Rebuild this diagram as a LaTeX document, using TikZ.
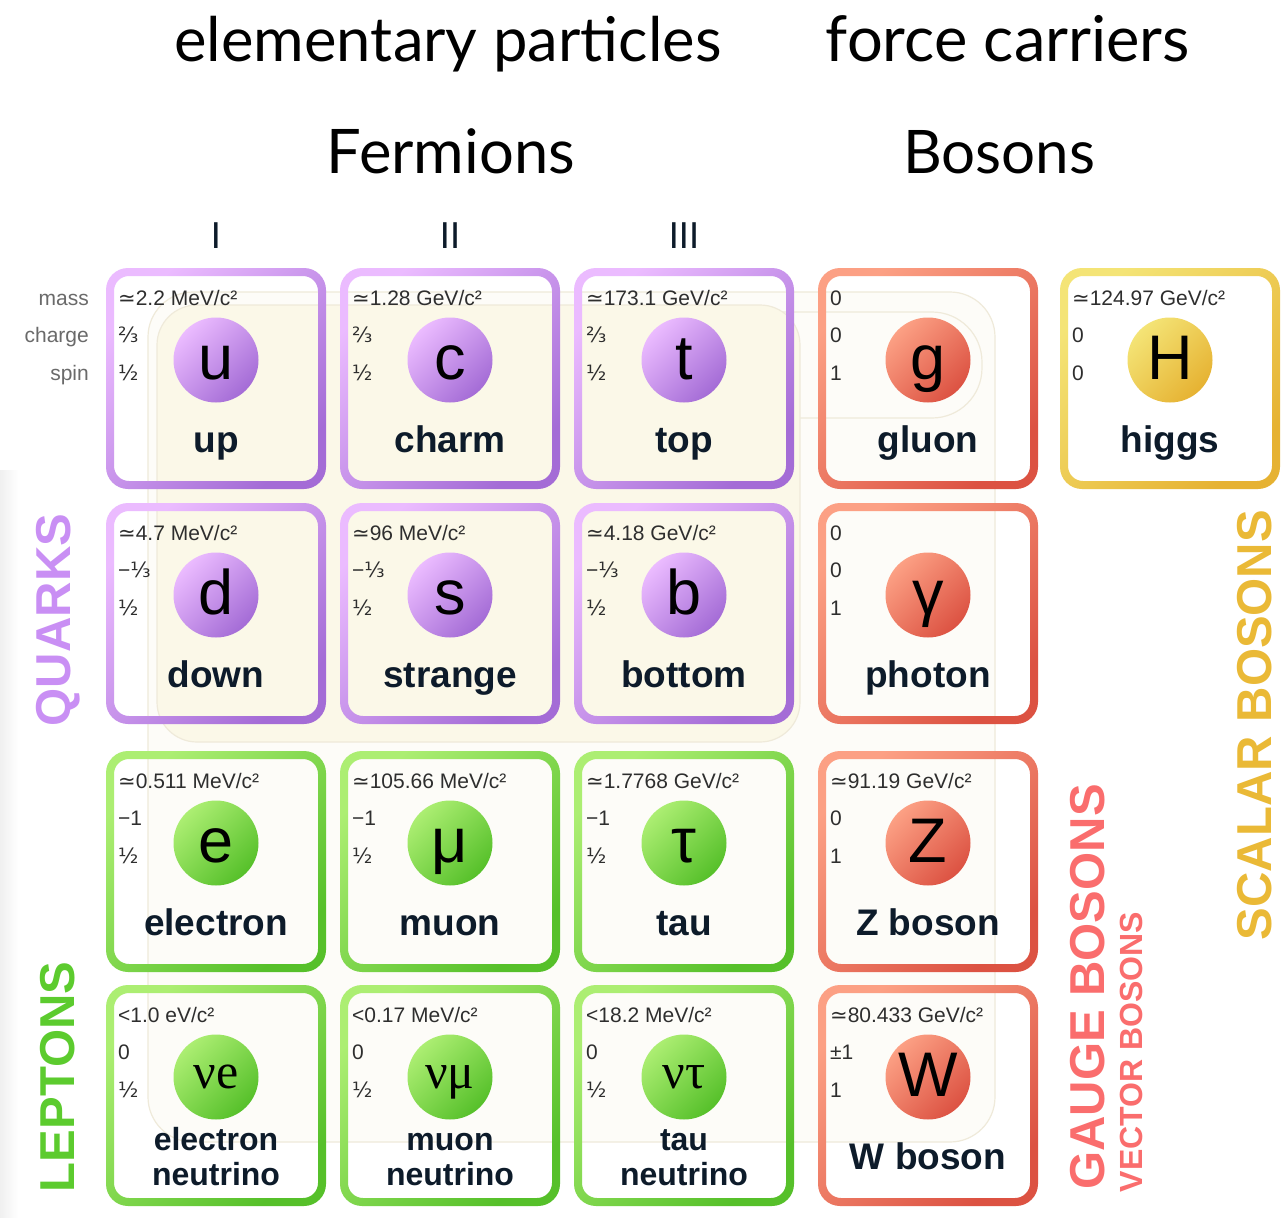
\documentclass[tikz,border=0pt]{standalone}
\usepackage{fontspec}
\setmainfont{Liberation Sans}
\newfontfamily\dejavu{DejaVu Sans}
\newfontfamily\serifgr{Liberation Serif}
\newfontfamily\headfont{Lato}
\definecolor{pA}{HTML}{EBBBFF}
\definecolor{pB}{HTML}{A46CD6}
\definecolor{gA}{HTML}{ACEE72}
\definecolor{gB}{HTML}{56C02A}
\definecolor{rA}{HTML}{FCA084}
\definecolor{rB}{HTML}{DC5242}
\definecolor{yA}{HTML}{F4E476}
\definecolor{yB}{HTML}{E6B232}
\definecolor{bgA}{HTML}{FDFCF8}
\definecolor{bgB}{HTML}{FBF8E8}
\definecolor{bgline}{HTML}{EFEADA}
\definecolor{navy}{HTML}{0D1B2A}
\definecolor{valgray}{HTML}{2E2E2E}
\definecolor{labgray}{HTML}{6A6A6A}
\definecolor{quarkc}{HTML}{C98FF4}
\definecolor{leptonc}{HTML}{5CCB2E}
\definecolor{gaugec}{HTML}{FA6D6D}
\definecolor{scalarc}{HTML}{EAB936}
\newcommand\apx{{\dejavu ≃}}
\newcommand\frc[1]{{\dejavu #1}}
\newcommand\nufont{\fontsize{50}{50}\serifgr}
\tikzset{
  valtext/.style={inner sep=0pt, text=valgray, font=\fontsize{21}{21}\selectfont},
  symtext/.style={inner sep=0pt, text=black, font=\fontsize{63}{63}\selectfont},
  nametext/.style={inner sep=0pt, text=navy, font=\fontsize{37}{37}\selectfont\bfseries},
  nuname/.style={inner sep=0pt, text=navy, font=\fontsize{32}{32}\selectfont\bfseries},
  ball/.style={circle, inner sep=0pt, minimum size=85pt, top color=#1A, bottom color=#1B, shading angle=45},
  headtext/.style={inner sep=0pt, text=black},
  vlabel/.style={inner sep=0pt, rotate=90, font=\fontsize{49}{49}\selectfont\bfseries},
  rowlab/.style={inner sep=0pt, text=labgray, font=\fontsize{21}{21}\selectfont, anchor=base east}
}
% #1 id, #2 x, #3 y, #4 colour, #5 mass, #6 charge, #7 spin, #8 symbol
\newcommand\cellbase[8]{%
  \path[even odd rule, top color=#4A, bottom color=#4B, shading angle=45]
    [rounded corners=22] (#2,#3) rectangle ++(220,221)
    [rounded corners=15] (#2+8,#3+8) rectangle ++(204,205);
  \node[valtext, anchor=base west] (#1-m) at (#2+12,#3+37) {#5};
  \node[valtext, anchor=base west] (#1-q) at (#2+12,#3+74) {#6};
  \node[valtext, anchor=base west] (#1-s) at (#2+12,#3+112) {#7};
  \node[ball=#4] (#1) at (#2+110,#3+92) {};
  \node[symtext, anchor=base] (#1-sym) at (#2+110,#3+111) {#8};
}
\newcommand\pcell[9]{%
  \cellbase{#1}{#2}{#3}{#4}{#5}{#6}{#7}{#8}%
  \node[nametext, anchor=base] (#1-n) at (#2+110,#3+184) {#9};
}
% #1 id, #2 x, #3 y, #4 mass, #5 charge, #6 spin, #7 symbol, #8 line1, #9 line2
\newcommand\nucell[9]{%
  \cellbase{#1}{#2}{#3}{g}{#4}{#5}{#6}{\raisebox{8pt}{\nufont #7}}%
  \node[nuname, anchor=base] (#1-n1) at (#2+110,#3+165) {#8};
  \node[nuname, anchor=base] (#1-n2) at (#2+110,#3+200) {#9};
}
\begin{document}
\begin{tikzpicture}[x=1pt,y=-1pt]
\useasboundingbox (0,0) rectangle (1283,1218);
\fill[white] (0,0) rectangle (1283,1218);
\shade[left color=black!6, right color=white] (0,470) rectangle (18,1218);
% faint interaction regions
\draw[fill=bgA, draw=bgline, line width=1.2pt, rounded corners=45] (148,292) rectangle (995,1142);
\draw[fill=bgA, draw=bgline, line width=1.2pt, rounded corners=50] (700,312) rectangle (982,418);
\draw[fill=bgB, draw=bgline, line width=1.2pt, rounded corners=40] (157,305) rectangle (800,742);

% headings
\node[headtext, anchor=base] (hep) at (448,61) {\resizebox{547pt}{!}{\headfont elementary particles}};
\node[headtext, anchor=base] (hfc) at (1008,61) {\resizebox{364pt}{!}{\headfont force carriers}};
\node[headtext, anchor=base] (hfe) at (451,173) {\resizebox{248pt}{!}{\headfont Fermions}};
\node[headtext, anchor=base] (hbo) at (999,173) {\resizebox{192pt}{!}{\headfont Bosons}};
\node[headtext, anchor=base, text=navy, font=\fontsize{36}{36}\selectfont\headfont] (g1) at (216,248) {I};
\node[headtext, anchor=base, text=navy, font=\fontsize{36}{36}\selectfont\headfont] (g2) at (450,248) {II};
\node[headtext, anchor=base, text=navy, font=\fontsize{36}{36}\selectfont\headfont] (g3) at (684,248) {III};

% row labels
\node[rowlab] (lmass) at (89,305) {mass};
\node[rowlab] (lcharge) at (89,342) {charge};
\node[rowlab] (lspin) at (89,380) {spin};

% row 1
\pcell{u}{106}{268}{p}{\apx2.2 MeV/c²}{\frc{⅔}}{\frc{½}}{u}{up}
\pcell{c}{340}{268}{p}{\apx1.28 GeV/c²}{\frc{⅔}}{\frc{½}}{c}{charm}
\pcell{t}{574}{268}{p}{\apx173.1 GeV/c²}{\frc{⅔}}{\frc{½}}{t}{top}
\pcell{gl}{818}{268}{r}{0}{0}{1}{g}{gluon}
\pcell{H}{1060}{268}{y}{\apx124.97 GeV/c²}{0}{0}{H}{higgs}
% row 2
\pcell{d}{106}{503}{p}{\apx4.7 MeV/c²}{−\frc{⅓}}{\frc{½}}{d}{down}
\pcell{s}{340}{503}{p}{\apx96 MeV/c²}{−\frc{⅓}}{\frc{½}}{s}{strange}
\pcell{b}{574}{503}{p}{\apx4.18 GeV/c²}{−\frc{⅓}}{\frc{½}}{b}{bottom}
\pcell{gamma}{818}{503}{r}{0}{0}{1}{γ}{photon}
% row 3
\pcell{e}{106}{751}{g}{\apx0.511 MeV/c²}{−1}{\frc{½}}{e}{electron}
\pcell{mu}{340}{751}{g}{\apx105.66 MeV/c²}{−1}{\frc{½}}{μ}{muon}
\pcell{tau}{574}{751}{g}{\apx1.7768 GeV/c²}{−1}{\frc{½}}{τ}{tau}
\pcell{Z}{818}{751}{r}{\apx91.19 GeV/c²}{0}{1}{Z}{Z boson}
% row 4
\nucell{nue}{106}{985}{<1.0 eV/c²}{0}{\frc{½}}{νe}{electron}{neutrino}
\nucell{numu}{340}{985}{<0.17 MeV/c²}{0}{\frc{½}}{νμ}{muon}{neutrino}
\nucell{nutau}{574}{985}{<18.2 MeV/c²}{0}{\frc{½}}{ντ}{tau}{neutrino}
\pcell{W}{818}{985}{r}{\apx80.433 GeV/c²}{±1}{1}{W}{W boson}

% group labels
\node[vlabel, text=quarkc] (quarks) at (58,620) {QUARKS};
\node[vlabel, text=leptonc] (leptons) at (58,1077) {LEPTONS};
\node[vlabel, text=gaugec] (gauge) at (1088,987) {GAUGE BOSONS};
\node[vlabel, text=gaugec, font=\fontsize{32}{32}\selectfont\bfseries] (vector) at (1131,1052) {VECTOR BOSONS};
\node[vlabel, text=scalarc] (scalar) at (1255,725) {SCALAR BOSONS};
\end{tikzpicture}
\end{document}
